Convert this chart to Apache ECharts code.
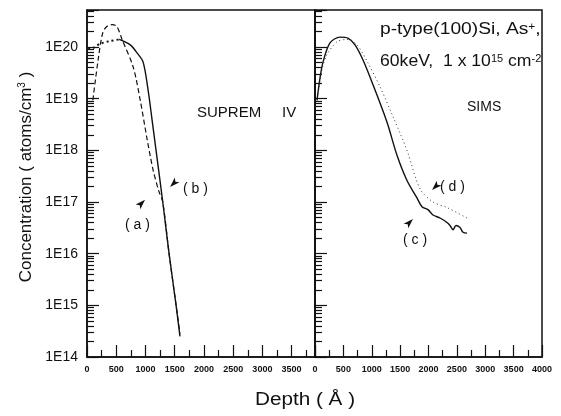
<!DOCTYPE html>
<html>
<head>
<meta charset="utf-8">
<script src="https://cdn.jsdelivr.net/npm/echarts@6/dist/echarts.min.js"></script>
<style>
  html, body { margin: 0; padding: 0; background: #fff; }
  #chart { width: 561px; height: 416px; }
</style>
</head>
<body>
<div id="chart"></div>
<script>
// SUPREM IV simulation (left panel)
var supremDotDepth = [20, 100, 220, 390, 550];
var supremDotConc  = [9.2e19, 9.5e19, 1.15e20, 1.3e20, 1.4e20];
var supremSolidDepth = [550, 740, 860, 960, 1044, 1113, 1181, 1296, 1404, 1524, 1590];
var supremSolidConc  = [1.4e20, 1.1e20, 7.6e19, 5.1e19, 1.5e19, 3.9e18, 1.0e18, 1.0e17, 1.0e16, 1.0e15, 2.5e14];
var supremDashDepth = [100, 190, 270, 340, 430, 510, 600, 790, 910, 1030, 1130, 1230, 1296, 1404, 1524, 1590];
var supremDashConc  = [9.3e18, 5.6e19, 1.9e20, 2.5e20, 2.7e20, 2.5e20, 1.4e20, 4.1e19, 9.4e18, 1.6e18, 4.2e17, 1.6e17, 1.0e17, 1.0e16, 1.0e15, 2.8e14];

// SIMS measurement (right panel)
var simsSolidDepth = [35, 88, 141, 264, 440, 580, 705, 846, 1022, 1269, 1445, 1621, 1797, 1885, 1991, 2079, 2203, 2326, 2379, 2432, 2484, 2555, 2608, 2678];
var simsSolidConc  = [9.3e18, 2.5e19, 5.1e19, 1.2e20, 1.55e20, 1.48e20, 1.1e20, 5.6e19, 1.86e19, 3.5e18, 8.0e17, 2.6e17, 1.2e17, 8.1e16, 7.1e16, 5.6e16, 4.9e16, 4.0e16, 3.5e16, 2.9e16, 3.5e16, 3.2e16, 2.6e16, 2.5e16];
var simsDotDepth = [53, 123, 211, 388, 564, 740, 934, 1145, 1374, 1621, 1850, 2079, 2326, 2678];
var simsDotConc  = [1.2e19, 3.6e19, 7.1e19, 1.26e20, 1.4e20, 1.1e20, 4.9e19, 1.7e19, 4.5e18, 1.0e18, 1.8e17, 1.0e17, 7.8e16, 4.9e16];

function zip(xs, ys) { return xs.map(function (x, i) { return [x, ys[i]]; }); }

var myChart = echarts.init(document.getElementById('chart'));

var font = 'Liberation Sans, Arial, sans-serif';
var black = '#111';

function xAxisCfg(idx, max, showAll) {
  return {
    type: 'value', gridIndex: idx, min: 0, max: max, interval: 500,
    axisLine: { show: true, lineStyle: { color: black, width: 1.5 } },
    axisTick: { show: true, inside: true, length: 12, lineStyle: { color: black, width: 1.2 } },
    minorTick: { show: true, splitNumber: 2, length: 7, lineStyle: { color: black, width: 1.2 } },
    splitLine: { show: false },
    axisLabel: {
      margin: 8, color: black, fontFamily: font, fontSize: 9, fontWeight: 'bold',
      formatter: function (v) { return v % 500 === 0 ? String(v) : ''; },
      showMaxLabel: showAll
    }
  };
}
function yAxisCfg(idx, showLabel) {
  return {
    type: 'log', gridIndex: idx, min: 1e14, max: 5.2e20,
    axisLine: { show: true, lineStyle: { color: black, width: 1.5 } },
    axisTick: { show: true, inside: true, length: 12, lineStyle: { color: black, width: 1.2 } },
    minorTick: { show: true, splitNumber: 9, length: 7, lineStyle: { color: black, width: 1.2 } },
    splitLine: { show: false },
    axisLabel: {
      show: showLabel, margin: 9, color: black, fontFamily: font, fontSize: 14,
      formatter: function (v) {
        var e = Math.log10(v);
        if (Math.abs(e - Math.round(e)) > 0.01) return '';
        return '1E' + Math.round(e);
      }
    }
  };
}

var option = {
  backgroundColor: '#fff',
  grid: [
    { left: 87, top: 10, right: 246, bottom: 59, show: true, borderColor: black, borderWidth: 1.5 },
    { left: 315, top: 10, right: 19, bottom: 59, show: true, borderColor: black, borderWidth: 1.5 }
  ],
  xAxis: [xAxisCfg(0, 3900, false), xAxisCfg(1, 4000, true)],
  yAxis: [yAxisCfg(0, true), yAxisCfg(1, false)],
  series: [
    {
      type: 'line', xAxisIndex: 0, yAxisIndex: 0, symbol: 'none', smooth: 0.3,
      lineStyle: { color: black, width: 2, type: [2, 3] },
      data: zip(supremDotDepth, supremDotConc)
    },
    {
      type: 'line', xAxisIndex: 0, yAxisIndex: 0, symbol: 'none', smooth: 0.3,
      lineStyle: { color: black, width: 1.4 },
      data: zip(supremSolidDepth, supremSolidConc),
      markPoint: {
        symbol: 'arrow', symbolSize: [5, 10], silent: true, label: { show: false },
        itemStyle: { color: black },
        data: [
          { coord: [993, 1.1e17], symbolRotate: -45 },
          { coord: [1421, 1.95e17], symbolRotate: 135 }
        ]
      }
    },
    {
      type: 'line', xAxisIndex: 0, yAxisIndex: 0, symbol: 'none', smooth: 0.3,
      lineStyle: { color: black, width: 1.2, type: [5, 3] },
      data: zip(supremDashDepth, supremDashConc)
    },
    {
      type: 'line', xAxisIndex: 1, yAxisIndex: 1, symbol: 'none', smooth: 0.3,
      lineStyle: { color: black, width: 1.4 },
      data: zip(simsSolidDepth, simsSolidConc),
      markPoint: {
        symbol: 'arrow', symbolSize: [5, 10], silent: true, label: { show: false },
        itemStyle: { color: black },
        data: [
          { coord: [1727, 4.7e16], symbolRotate: -45 },
          { coord: [2062, 1.7e17], symbolRotate: 135 }
        ]
      }
    },
    {
      type: 'line', xAxisIndex: 1, yAxisIndex: 1, symbol: 'none', smooth: 0.3,
      lineStyle: { color: '#333', width: 1, type: [1, 3] },
      data: zip(simsDotDepth, simsDotConc)
    }
  ],
  graphic: [
    {
      type: 'text', x: 26, y: 177, rotation: Math.PI / 2,
      style: {
        text: 'Concentration ( atoms/cm{sup|3} )',
        fill: black, font: '17px ' + font, align: 'center', verticalAlign: 'middle',
        rich: { sup: { fontSize: 10, verticalAlign: 'top', fill: black } }
      }
    },
    {
      type: 'text', x: 305, y: 400, scaleX: 1.15,
      style: { text: 'Depth ( Å )', fill: black, font: '18px ' + font, align: 'center', verticalAlign: 'middle' }
    },
    {
      type: 'text', x: 197, y: 113,
      style: { text: 'SUPREM     IV', fill: black, font: '15px ' + font, verticalAlign: 'middle' }
    },
    {
      type: 'text', x: 467, y: 107,
      style: { text: 'SIMS', fill: black, font: '14px ' + font, verticalAlign: 'middle' }
    },
    {
      type: 'text', x: 380, y: 30, scaleX: 1.2,
      style: {
        text: 'p-type(100)Si, As{sup|+},', fill: black, font: '16px ' + font, verticalAlign: 'middle',
        rich: { sup: { fontSize: 10, verticalAlign: 'top', fill: black } }
      }
    },
    {
      type: 'text', x: 380, y: 62, scaleX: 1.1,
      style: {
        text: '60keV,  1 x 10{sup|15} cm{sup|-2}', fill: black, font: '16px ' + font, verticalAlign: 'middle',
        rich: { sup: { fontSize: 10, verticalAlign: 'top', fill: black } }
      }
    },
    { type: 'text', x: 183, y: 189, style: { text: '( b )', fill: black, font: '14px ' + font, verticalAlign: 'middle' } },
    { type: 'text', x: 125, y: 225, style: { text: '( a )', fill: black, font: '14px ' + font, verticalAlign: 'middle' } },
    { type: 'text', x: 440, y: 187, style: { text: '( d )', fill: black, font: '14px ' + font, verticalAlign: 'middle' } },
    { type: 'text', x: 403, y: 240, style: { text: '( c )', fill: black, font: '14px ' + font, verticalAlign: 'middle' } }
  ]
};

option && myChart.setOption(option);
</script>
</body>
</html>
